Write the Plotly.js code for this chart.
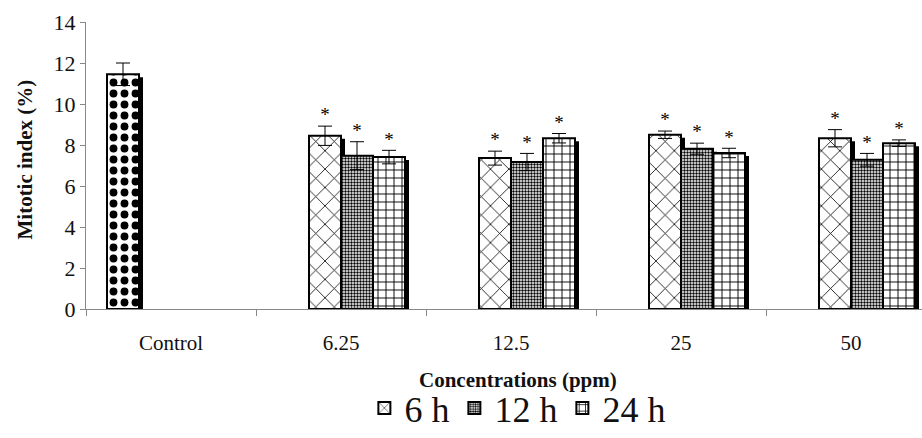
<!DOCTYPE html>
<html>
<head>
<meta charset="utf-8">
<script src="https://cdn.plot.ly/plotly-3.0.1.min.js"></script>
<style>html,body{margin:0;padding:0;background:#fff;}#chart{width:922px;height:438px;}</style>
</head>
<body>
<div id="chart"></div>
<script>
// ---- data ----
const categories = ["Control", "6.25", "12.5", "25", "50"];
const controlValue = [11.45];
const controlErr = [0.55];
const series6h = [8.45, 7.36, 8.50, 8.33];
const err6h = [0.47, 0.34, 0.18, 0.42];
const series12h = [7.48, 7.17, 7.82, 7.28];
const err12h = [0.68, 0.42, 0.27, 0.31];
const series24h = [7.41, 8.33, 7.61, 8.09];
const err24h = [0.33, 0.23, 0.23, 0.16];
const seriesNames = ["6 h", "12 h", "24 h"];

// ---- style / layout ----
const W = 922, H = 438;
const mL = 86, mT = 22, mB = 128;
const plotW = W - mL, plotH = H - mT - mB;
const pxPerCat = 170;
const xMin = -0.5, xMax = xMin + plotW / pxPerCat;
const pxPerUnit = plotH / 14;
const slot = 32 / pxPerCat;
const shadowDx = 4 / pxPerCat;
const shadowDy = 3 / pxPerUnit;
const font = "'Liberation Serif', 'Times New Roman', serif";

const idxCtrl = [0];
const idxConc = categories.slice(1).map((c, i) => i + 1);

function barTrace(x, y, err, off, pattern, name, showleg) {
  return {
    type: "bar", x: x, y: y, name: name, showlegend: showleg,
    offset: off, width: slot,
    marker: { color: "#fff", line: { color: "#000", width: 2 }, pattern: pattern },
    error_y: { type: "data", array: err, visible: true, color: "#000", thickness: 1, width: 7 },
    hoverinfo: "skip"
  };
}
function shadowTrace(x, y, off) {
  return {
    type: "bar", x: x, y: y.map(v => v - shadowDy), showlegend: false,
    offset: off + shadowDx, width: slot,
    marker: { color: "#000", line: { width: 0 } }, hoverinfo: "skip"
  };
}
function starTrace(x, y, err, off) {
  return {
    type: "scatter", mode: "text", showlegend: false, hoverinfo: "skip",
    x: x.map(v => v + off + slot / 2), y: y.map((v, i) => v + err[i]),
    text: y.map(() => "*"), textposition: "top center",
    textfont: { family: font, size: 19, color: "#000" }
  };
}

const offs = [-2 * slot, -slot, 0, slot];
const pCtrl = { shape: ".", fgcolor: "#000", bgcolor: "#fff", size: 11, solidity: 0.4, fillmode: "replace" };
const p6 = { shape: "x", fgcolor: "#000", bgcolor: "#fff", size: 13, solidity: 0.12, fillmode: "replace" };
const p12 = { shape: ".", fgcolor: "#000", bgcolor: "#fff", size: 3, solidity: 0.5, fillmode: "replace" };
const p24 = { shape: "+", fgcolor: "#000", bgcolor: "#fff", size: 8, solidity: 0.22, fillmode: "replace" };

const data = [
  shadowTrace(idxCtrl, controlValue, offs[0]),
  shadowTrace(idxConc, series6h, offs[1]),
  shadowTrace(idxConc, series12h, offs[2]),
  shadowTrace(idxConc, series24h, offs[3]),
  barTrace(idxCtrl, controlValue, controlErr, offs[0], pCtrl, "Control", false),
  barTrace(idxConc, series6h, err6h, offs[1], p6, seriesNames[0], true),
  barTrace(idxConc, series12h, err12h, offs[2], p12, seriesNames[1], true),
  barTrace(idxConc, series24h, err24h, offs[3], p24, seriesNames[2], true),
  starTrace(idxConc, series6h, err6h, offs[1]),
  starTrace(idxConc, series12h, err12h, offs[2]),
  starTrace(idxConc, series24h, err24h, offs[3])
];

const layout = {
  width: W, height: H,
  margin: { l: mL, r: 0, t: mT, b: mB, pad: 0 },
  paper_bgcolor: "#fff", plot_bgcolor: "#fff",
  barmode: "overlay",
  showlegend: true,
  font: { family: font, color: "#111" },
  xaxis: {
    type: "linear", range: [xMin, xMax], fixedrange: true,
    tickvals: categories.map((c, i) => i), ticktext: categories,
    ticks: "", ticklabelstandoff: 15,
    tickfont: { family: font, size: 21, color: "#111" },
    showline: true, linecolor: "#888", linewidth: 1,
    showgrid: false, zeroline: false,
    minor: { ticks: "outside", ticklen: 6, tickcolor: "#888", tick0: 0.5, dtick: 1, showgrid: false }
  },
  yaxis: {
    range: [0, 14], dtick: 2, fixedrange: true,
    ticks: "outside", ticklen: 5, tickcolor: "#888",
    tickfont: { family: font, size: 22, color: "#111" },
    showline: true, linecolor: "#888", linewidth: 1,
    showgrid: false, zeroline: false
  },
  legend: {
    orientation: "h", x: 0.516, xanchor: "center", y: (310 - 409) / plotH, yanchor: "middle",
    font: { family: font, size: 36, color: "#111" },
    itemsizing: "constant", itemwidth: 30, traceorder: "normal", bgcolor: "rgba(0,0,0,0)"
  },
  annotations: [
    { text: "<b>Concentrations (ppm)</b>", xref: "paper", yref: "paper",
      x: (518 - mL) / plotW, y: (310 - 381) / plotH, xanchor: "center", yanchor: "middle",
      showarrow: false, font: { family: font, size: 21, color: "#111" } },
    { text: "<b>Mitotic index (%)</b>", xref: "paper", yref: "paper", textangle: -90,
      x: (25 - mL) / plotW, y: (310 - 160) / plotH, xanchor: "center", yanchor: "middle",
      showarrow: false, font: { family: font, size: 21, color: "#111" } }
  ]
};

Plotly.newPlot("chart", data, layout, { displayModeBar: false, staticPlot: true });
</script>
</body>
</html>
